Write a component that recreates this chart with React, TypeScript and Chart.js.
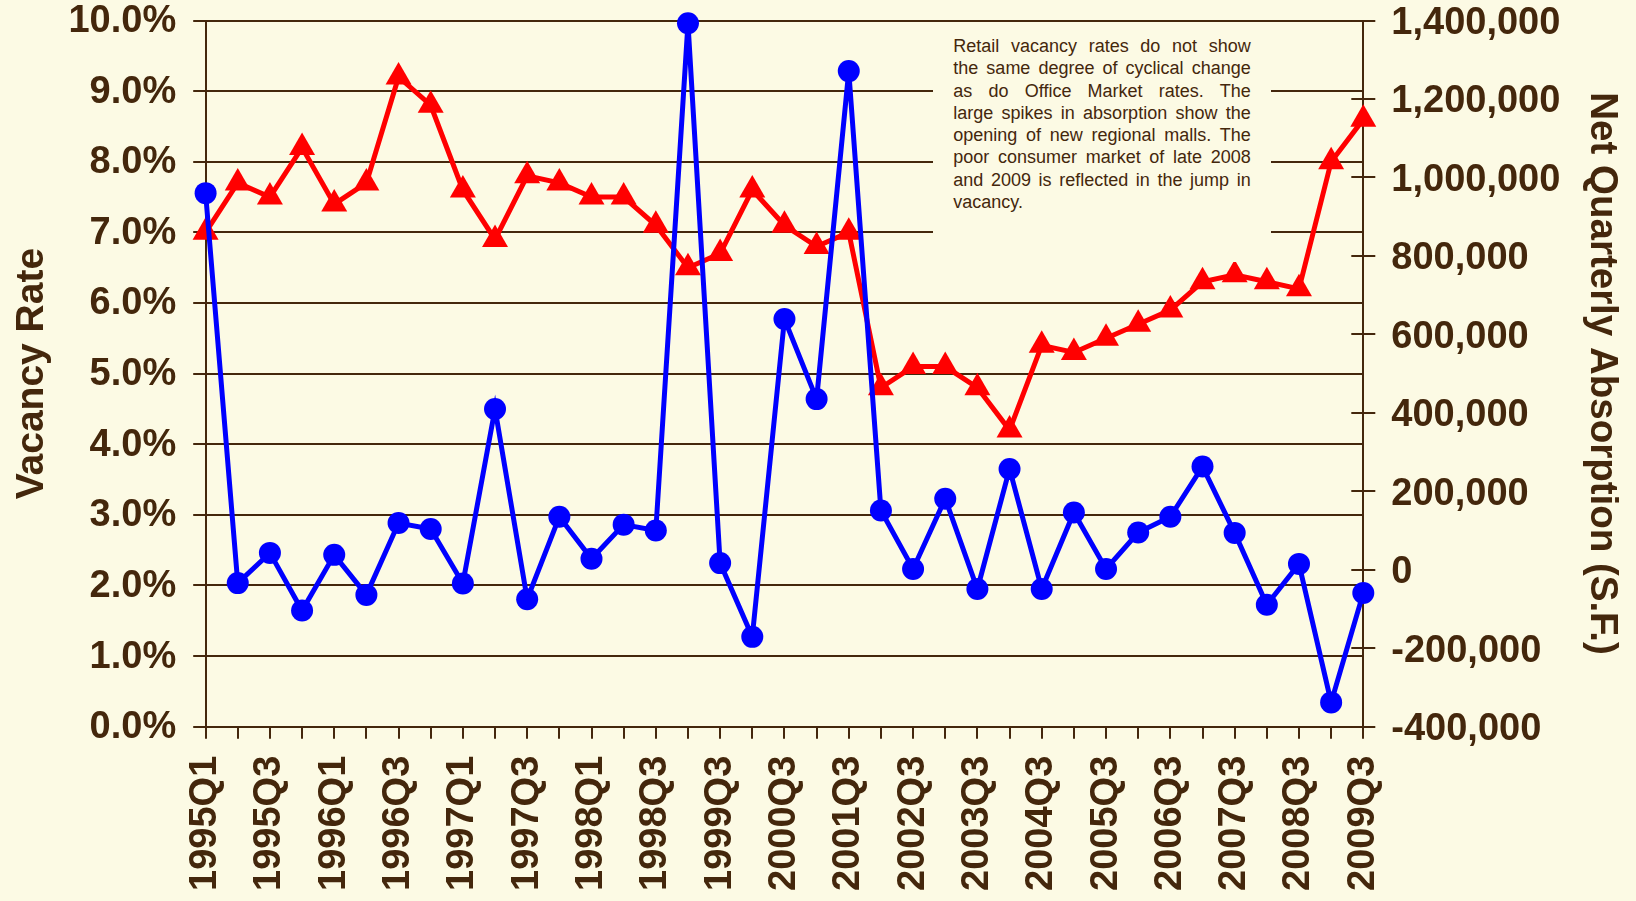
import React, { useEffect, useRef } from "react";
import { Chart, registerables } from "chart.js";

Chart.register(...registerables);

const quarters: string[] = [
  "1995Q1", "1995Q2", "1995Q3", "1995Q4",
  "1996Q1", "1996Q2", "1996Q3", "1996Q4",
  "1997Q1", "1997Q2", "1997Q3", "1997Q4",
  "1998Q1", "1998Q2", "1998Q3",
  "1999Q1", "1999Q3", "2000Q1", "2000Q3", "2001Q1", "2001Q3",
  "2002Q1", "2002Q3", "2003Q1", "2003Q3", "2004Q1", "2004Q3",
  "2005Q1", "2005Q3", "2006Q1", "2006Q3", "2007Q1", "2007Q3",
  "2008Q1", "2008Q3", "2009Q1", "2009Q3",
];

// Vacancy rate, percent (left axis)
const vacancyRate: number[] = [
  7.0, 7.7, 7.5, 8.2, 7.4, 7.7, 9.2, 8.8, 7.6, 6.9,
  7.8, 7.7, 7.5, 7.5, 7.1, 6.5, 6.7, 7.6, 7.1, 6.8,
  7.0, 4.8, 5.1, 5.1, 4.8, 4.2, 5.4, 5.3, 5.5, 5.7,
  5.9, 6.3, 6.4, 6.3, 6.2, 8.0, 8.6,
];

// Net quarterly absorption, square feet (right axis)
const netAbsorption: number[] = [
  960000, -34000, 43000, -104000, 38000, -64000, 119000, 104000, -35000, 410000,
  -75000, 135000, 28000, 115000, 100000, 1393000, 17000, -171000, 639000, 435000,
  1271000, 151000, 2000, 181000, -49000, 257000, -49000, 146000, 2000, 95000,
  135000, 263000, 94000, -89000, 15000, -338000, -59000,
];

const leftTicks = { min: 0, max: 10, step: 1 };
const rightTicks = { min: -400000, max: 1400000, step: 200000 };

const noteLines: string[] = [
  "Retail vacancy rates do not show",
  "the same degree of cyclical change",
  "as do Office Market rates.  The",
  "large spikes in absorption show the",
  "opening of new regional malls.  The",
  "poor consumer market of late 2008",
  "and 2009 is reflected in the jump in",
  "vacancy.",
];

const BG = "#FCFAE4";
const BROWN = "#44270C";
const FONT = '"Liberation Sans", Arial, sans-serif';

const crossTicks = {
  id: "crossTicks",
  beforeDatasetsDraw(chart: any) {
    const s = chart.scales.y1;
    const ctx = chart.ctx;
    const x = chart.chartArea.right;
    ctx.save();
    ctx.strokeStyle = BROWN;
    ctx.lineWidth = 2;
    s.ticks.forEach((t: any) => {
      const y = Math.round(s.getPixelForValue(t.value));
      ctx.beginPath();
      ctx.moveTo(x - 12, y);
      ctx.lineTo(x, y);
      ctx.stroke();
    });
    ctx.restore();
  },
};

export default function App() {
  const ref = useRef<HTMLCanvasElement | null>(null);

  useEffect(() => {
    if (!ref.current) return;
    const chart = new Chart(ref.current, {
      type: "line",
      data: {
        labels: quarters,
        datasets: [
          {
            label: "Net Quarterly Absorption (S.F.)",
            data: netAbsorption,
            yAxisID: "y1",
            borderColor: "#0000FF",
            backgroundColor: "#0000FF",
            borderWidth: 5,
            pointStyle: "circle",
            pointRadius: 11,
            pointHoverRadius: 11,
            pointBorderWidth: 0,
            tension: 0,
            clip: false,
          },
          {
            label: "Vacancy Rate",
            data: vacancyRate,
            yAxisID: "y",
            borderColor: "#FF0000",
            backgroundColor: "#FF0000",
            borderWidth: 5,
            pointStyle: "triangle",
            pointRadius: 15,
            pointHoverRadius: 15,
            pointBorderWidth: 0,
            tension: 0,
            clip: false,
          },
        ],
      },
      options: {
        animation: false,
        responsive: false,
        maintainAspectRatio: false,
        events: [],
        layout: { autoPadding: false, padding: { top: 20.5, left: 0, right: 0, bottom: 0 } },
        plugins: {
          legend: { display: false },
          tooltip: { enabled: false },
          title: { display: false },
        },
        scales: {
          x: {
            type: "category",
            offset: false,
            grid: {
              display: true,
              drawOnChartArea: false,
              drawTicks: true,
              tickLength: 12,
              color: BROWN,
              lineWidth: 2,
            },
            border: { display: true, color: BROWN, width: 2 },
            ticks: {
              autoSkip: false,
              maxRotation: 90,
              minRotation: 90,
              padding: 17,
              color: BROWN,
              font: { family: FONT, size: 38, weight: "bold", lineHeight: 1 },
              callback: (_v: any, i: number) => (i % 2 === 0 ? quarters[i] : ""),
            },
            afterFit: (scale: any) => {
              scale.height = 174.3;
              scale.paddingLeft = 0;
              scale.paddingRight = 0;
            },
          },
          y: {
            position: "left",
            min: leftTicks.min,
            max: leftTicks.max,
            grid: {
              display: true,
              drawOnChartArea: true,
              drawTicks: true,
              tickLength: 12.4,
              color: BROWN,
              lineWidth: 2,
            },
            border: { display: true, color: BROWN, width: 2 },
            ticks: {
              stepSize: leftTicks.step,
              padding: 17,
              labelOffset: 1,
              color: BROWN,
              font: { family: FONT, size: 38, weight: "bold", lineHeight: 1 },
              callback: (v: any) => Number(v).toFixed(1) + "%",
            },
            title: {
              display: true,
              text: "Vacancy Rate",
              color: BROWN,
              font: { family: FONT, size: 39, weight: "bold", lineHeight: 1.2 },
              padding: { top: 9.2, bottom: 0 },
            },
            afterFit: (scale: any) => {
              scale.width = 205.6;
              scale.paddingTop = 0;
              scale.paddingBottom = 0;
            },
          },
          y1: {
            position: "right",
            min: rightTicks.min,
            max: rightTicks.max,
            grid: {
              display: true,
              drawOnChartArea: false,
              drawTicks: true,
              tickLength: 12,
              color: BROWN,
              lineWidth: 2,
            },
            border: { display: true, color: BROWN, width: 2 },
            ticks: {
              stepSize: rightTicks.step,
              padding: 16,
              labelOffset: 3,
              color: BROWN,
              font: { family: FONT, size: 38, weight: "bold", lineHeight: 1 },
              callback: (v: any) => Number(v).toLocaleString("en-US"),
            },
            title: {
              display: true,
              text: "Net Quarterly Absorption (S.F.)",
              color: BROWN,
              font: { family: FONT, size: 38.5, weight: "bold", lineHeight: 1.2 },
              padding: { top: 11, bottom: 0 },
            },
            afterFit: (scale: any) => {
              scale.width = 272.7;
              scale.paddingTop = 0;
              scale.paddingBottom = 0;
            },
          },
        },
      },
      plugins: [crossTicks],
    } as any);
    return () => chart.destroy();
  }, []);

  return (
    <div
      style={{
        position: "fixed",
        left: 0,
        top: 0,
        width: 1636,
        height: 901,
        background: BG,
        overflow: "hidden",
      }}
    >
      <canvas ref={ref} width={1636} height={901} style={{ display: "block", width: 1636, height: 901 }} />
      <div
        style={{
          position: "absolute",
          left: 933,
          top: 22,
          width: 338,
          height: 240,
          boxSizing: "border-box",
          padding: "13px 20.3px 0 20.3px",
          background: BG,
          color: BROWN,
          fontFamily: FONT,
          fontSize: 18,
          lineHeight: "22.3px",
        }}
      >
        {noteLines.map((line, i) => {
          const last = i === noteLines.length - 1;
          return (
            <div
              key={i}
              style={{
                textAlign: last ? "left" : "justify",
                textAlignLast: last ? "left" : "justify",
              } as any}
            >
              {line}
            </div>
          );
        })}
      </div>
    </div>
  );
}
